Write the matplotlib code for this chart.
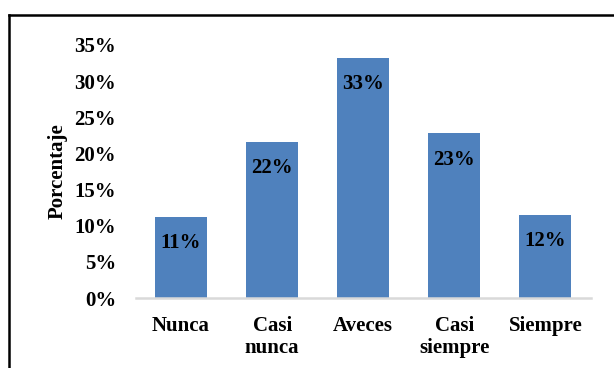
import matplotlib.pyplot as plt
from matplotlib.lines import Line2D

categorias = ["Nunca", "Casi\nnunca", "Aveces", "Casi\nsiempre", "Siempre"]
valores = [0.112, 0.216, 0.332, 0.228, 0.115]
etiquetas = ["11%", "22%", "33%", "23%", "12%"]
yticks = [0, 0.05, 0.10, 0.15, 0.20, 0.25, 0.30, 0.35]

plt.rcParams['font.family'] = ['Liberation Serif', 'DejaVu Serif']
plt.rcParams['font.weight'] = 'bold'

fig = plt.figure(figsize=(6.14, 3.68), dpi=100)
ax = fig.add_axes([0.2207, 0.19, 0.7418, 0.688])

x = range(len(categorias))
bars = ax.bar(x, valores, width=0.57, color='#4F81BD')
for b, lab in zip(bars, etiquetas):
    ax.annotate(lab, (b.get_x() + b.get_width() / 2, b.get_height()),
                xytext=(0, -19), textcoords='offset points',
                ha='center', va='center', fontsize=15, fontweight='bold')

ax.set_xlim(-0.5, 4.5)
ax.set_ylim(0, 0.35)
ax.set_yticks(yticks)
ax.set_yticklabels([f"{int(round(v * 100))}%" for v in yticks], fontsize=15, fontweight='bold')
ax.set_xticks(list(x))
ax.set_xticklabels(categorias, fontsize=15, fontweight='bold', linespacing=1.15)
ax.tick_params(axis='both', length=0)
ax.tick_params(axis='y', pad=14)
ax.tick_params(axis='x', pad=13)
ax.set_ylabel("Porcentaje", fontsize=15, fontweight='bold', labelpad=5)

for s in ['top', 'right', 'left']:
    ax.spines[s].set_visible(False)
ax.spines['bottom'].set_color('#D9D9D9')
ax.spines['bottom'].set_linewidth(1.8)

# marco exterior (recortado a la derecha y abajo)
x0 = 8.5 / 614
y0 = 1 - 15 / 368
fig.add_artist(Line2D([x0, x0], [0, y0], transform=fig.transFigure, color='black', lw=1.8))
fig.add_artist(Line2D([x0, 1.01], [y0, y0], transform=fig.transFigure, color='black', lw=1.8))

fig.savefig('out.png', dpi=100)
